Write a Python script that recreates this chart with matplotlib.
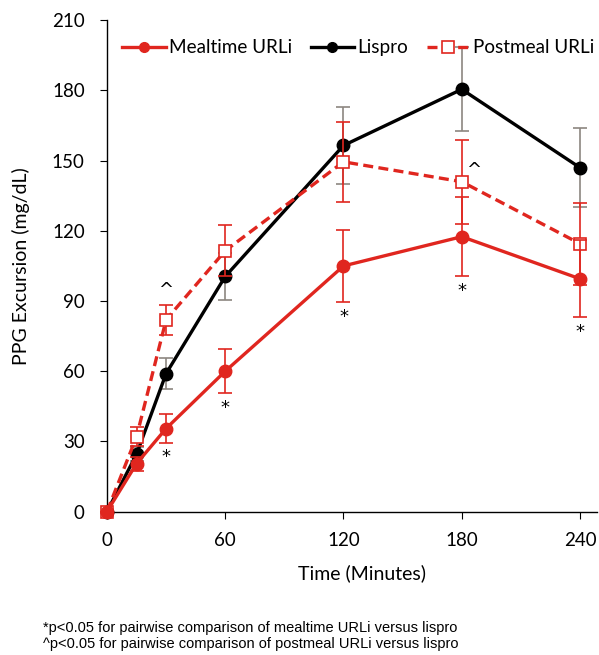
import matplotlib.pyplot as plt
from matplotlib.lines import Line2D

# Time points (minutes)
minutes = [0, 15, 30, 60, 120, 180, 240]

# PPG excursion means and error (mg/dL)
mealtime = [0, 20.5, 35.5, 60, 105, 117.5, 99.5]
mealtime_err = [0, 3, 6, 9.5, 15.5, 17, 16.5]
lispro = [0, 24.5, 59, 100.5, 156.5, 180.5, 147]
lispro_err = [0, 3, 6.5, 10, 16.5, 18, 17]
postmeal = [0, 32, 82, 111.5, 149.5, 141, 114.5]
postmeal_err = [0, 4, 6.5, 11, 17, 18, 17.5]

# significance markers
star_minutes = [30, 60, 120, 180, 240]
caret_minutes = [30, 180]

red = '#e0261f'
gray = '#8c8680'
font = 'Lato'

fig = plt.figure(figsize=(5.99, 6.55), dpi=100)
ax = fig.add_axes([0.1786, 0.219, 0.818, 0.750])

common = dict(lw=2.4, elinewidth=1.2, capsize=5, capthick=1.2)
ax.errorbar(minutes, lispro, yerr=lispro_err, color='black', marker='o', ms=9,
            ecolor=gray, zorder=3, **common)
ax.errorbar(minutes, postmeal, yerr=postmeal_err, color=red, ls=(0, (3, 1.6)),
            marker='s', ms=9, mfc='white', mec=red, mew=1.2, ecolor=red,
            zorder=4, **common)
ax.errorbar(minutes, mealtime, yerr=mealtime_err, color=red, marker='o', ms=9,
            ecolor=red, zorder=5, **common)
for c in ax.get_children():
    if isinstance(c, Line2D):
        c.set_clip_on(False)

# asterisks under mealtime error bars
for m in star_minutes:
    i = minutes.index(m)
    ax.text(m, mealtime[i] - mealtime_err[i] - 2.5, '*', ha='center', va='top',
            fontsize=13, color='black', family='DejaVu Sans')
# carets above postmeal error bars
caret_pos = {30: (30, 91), 180: (186, 142)}
for m in caret_minutes:
    x, y = caret_pos[m]
    ax.text(x, y, '^', ha='center', va='bottom', fontsize=13, family='DejaVu Sans')

ax.set_xlim(0, 248.6)
ax.set_ylim(0, 210)
ax.set_xticks([0, 60, 120, 180, 240])
ax.set_yticks(range(0, 211, 30))
ax.spines['top'].set_visible(False)
ax.spines['right'].set_visible(False)
for s in ('left', 'bottom'):
    ax.spines[s].set_linewidth(1.0)
ax.tick_params(labelsize=13.5, length=5, direction='out')
ax.tick_params(axis='x', pad=10)
ax.tick_params(axis='y', pad=11)
for lab in ax.get_xticklabels() + ax.get_yticklabels():
    lab.set_family(font)
ax.set_xlabel('Time (Minutes)', fontsize=14, family=font)
ax.set_ylabel('PPG Excursion (mg/dL)', fontsize=14, family=font, labelpad=16)
ax.xaxis.set_label_coords(0.52, -0.108)

handles = [
    Line2D([], [], color=red, lw=2.4, marker='o', ms=7),
    Line2D([], [], color='black', lw=2.4, marker='o', ms=7),
    Line2D([], [], color=red, lw=2.4, ls=(0, (3, 1.6)), marker='s', ms=8,
           mfc='white', mec=red, mew=1.2),
]
labels = ['Mealtime URLi', 'Lispro', 'Postmeal URLi']
ax.legend(handles, labels, loc='center', bbox_to_anchor=(0.513, 0.944), ncol=3,
          frameon=False, handlelength=2.3, handletextpad=0.15,
          columnspacing=1.0, prop={'family': font, 'size': 13.6})

fig.text(0.072, 1 - 621 / 655,
         '*p<0.05 for pairwise comparison of mealtime URLi versus lispro\n'
         '^p<0.05 for pairwise comparison of postmeal URLi versus lispro',
         fontsize=10.5, family='Liberation Sans', va='top', linespacing=1.15)

fig.savefig('out.png', dpi=100)
